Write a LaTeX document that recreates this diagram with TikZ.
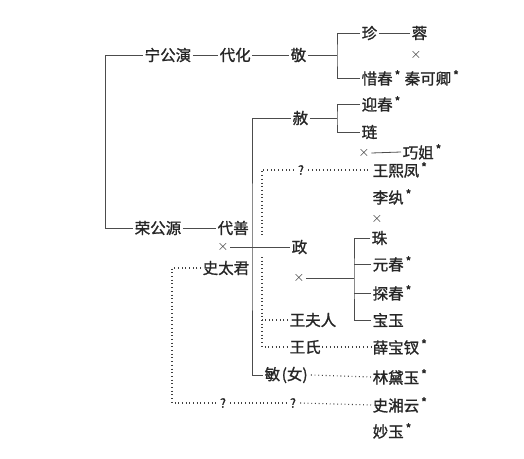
\documentclass[tikz,border=0pt]{standalone}
\usepackage{fontspec}
\setmainfont{Noto Sans CJK SC}[FakeBold=1.2]
\newcommand\mystar{\raisebox{4.5pt}{\fontsize{12}{12}\selectfont\,\addfontfeatures{FakeBold=2.5}*}}
\begin{document}
\begin{tikzpicture}[x=1pt,y=-1pt,
 t/.style={anchor=west,inner xsep=1.5pt,inner ysep=1pt,font=\fontsize{15.5}{16}\selectfont,text=black!85},
 xm/.style={inner sep=1.5pt,font=\fontsize{15}{15}\selectfont,text=black!85},
 qm/.style={inner xsep=4pt,inner ysep=1pt,font=\fontsize{12.5}{12.5}\selectfont,text=black!85},
 ln/.style={draw=black!70,line width=0.8pt},
 dl/.style={draw=black!75,line width=1.1pt,dash pattern=on 0.9pt off 2.8pt}]
\useasboundingbox (0,0) rectangle (524,458);
% nodes
\node[t] (ning) at (143,55) {宁公演};
\node[t] (daihua) at (218,55) {代化};
\node[t] (jing) at (289,55) {敬};
\node[t] (zhen) at (360,33) {珍};
\node[t] (rong) at (410,33) {蓉};
\node[xm] (x1) at (416,55) {$\times$};
\node[t] (xichun) at (360,78) {惜春\mystar};
\node[t] (qin) at (403,78) {秦可卿\mystar};
\node[t] (rongong) at (133,228) {荣公源};
\node[t] (daishan) at (216,228) {代善};
\node[t] (she) at (291,118) {赦};
\node[t] (yingchun) at (360,104) {迎春\mystar};
\node[t] (lian) at (360,132) {琏};
\node[xm] (x2) at (364,153) {$\times$};
\node[t] (qiaojie) at (401,152) {巧姐\mystar};
\node[qm] (q1) at (301,170) {?};
\node[t] (wangxifeng) at (371,170) {王熙凤\mystar};
\node[t] (liwan) at (371,197) {李纨\mystar};
\node[xm] (x3) at (377,219) {$\times$};
\node[xm] (x4) at (223,247) {$\times$};
\node[t] (zheng) at (290,247) {政};
\node[t] (zhu) at (370,238) {珠};
\node[t] (shitaijun) at (201,268) {史太君};
\node[xm] (x5) at (299,278) {$\times$};
\node[t] (yuanchun) at (371,264) {元春\mystar};
\node[t] (tanchun) at (371,293) {探春\mystar};
\node[t] (baoyu) at (371,320) {宝玉};
\node[t] (wangfuren) at (288,320) {王夫人};
\node[t] (wangshi) at (288,347) {王氏};
\node[t] (xuebaochai) at (371,347) {薛宝钗\mystar};
\node[t] (minnv) at (263,375) {敏\kern1.5pt(女)\kern1.5pt};
\node[t] (lindaiyu) at (371,377) {林黛玉\mystar};
\node[qm] (q2) at (223,403) {?};
\node[qm] (q3) at (293,403) {?};
\node[t] (shixiangyun) at (371,405) {史湘云\mystar};
\node[t] (miaoyu) at (371,431) {妙玉\mystar};
% solid connectors
\coordinate (L) at (105,0);
\draw[ln] (ning.west) -| (L |- rongong.west) -- (rongong.west);
\draw[ln] (ning.east) -- (daihua.west);
\draw[ln] (daihua.east) -- (jing.west);
\coordinate (b1) at (337,55);
\draw[ln] (jing.east) -- (b1);
\draw[ln] (zhen.west) -| (b1) |- (xichun.west);
\draw[ln] (zhen.east) -- (rong.west);
\draw[ln] (rongong.east) -- (daishan.west);
\coordinate (trunk) at (252,247);
\draw[ln] (she.west) -| (trunk) |- (minnv.west);
\draw[ln] (x4.east) -- (zheng.west);
\coordinate (b2) at (337,118);
\draw[ln] (she.east) -- (b2);
\draw[ln] (yingchun.west) -| (b2) |- (lian.west);
\draw[ln] (x2.east) -- (qiaojie.west);
\coordinate (b3) at (354,278);
\draw[ln] (x5.east) -- (b3);
\draw[ln] (zhu.west) -| (b3) |- (baoyu.west);
\draw[ln] (yuanchun.west) -- (yuanchun.west -| b3);
\draw[ln] (tanchun.west) -- (tanchun.west -| b3);
% dotted connectors
\coordinate (d1) at (262,237);
\coordinate (d2) at (262,257);
\draw[dl] (q1.west) -| (d1);
\draw[dl] (d2) |- (wangshi.west);
\draw[dl] (wangfuren.west) -- (wangfuren.west -| d2);
\draw[dl] (q1.east) -- (wangxifeng.west);
\draw[dl] (wangshi.east) -- (xuebaochai.west);
\draw[dl] (minnv.east) -- (lindaiyu.west);
\coordinate (d3) at (172,300);
\draw[dl] (shitaijun.west) -| (d3) |- (q2.west);
\draw[dl] (q2.east) -- (q3.west);
\draw[dl] (q3.east) -- (shixiangyun.west);
\end{tikzpicture}
\end{document}
